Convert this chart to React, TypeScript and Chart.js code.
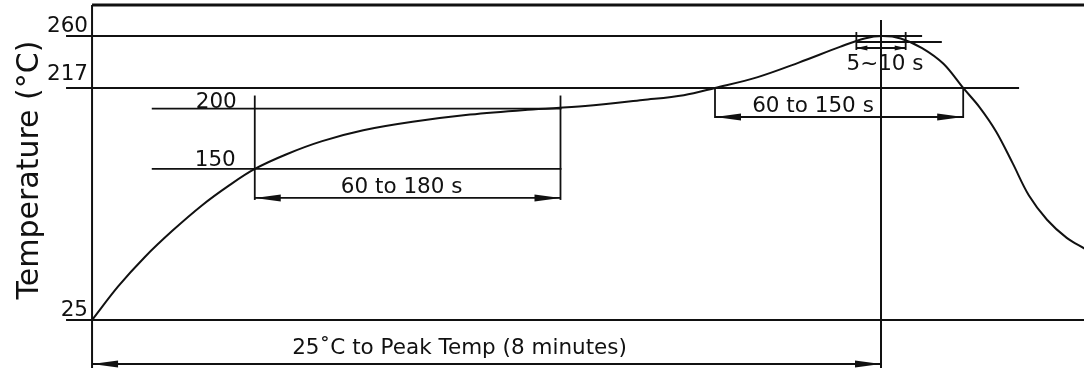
import React, { useEffect, useRef } from "react";
import { Chart, registerables } from "chart.js";
Chart.register(...registerables);

// Reflow profile curve (time in s, temperature in °C)
const timeS = [0, 16, 32, 49, 67, 83, 99, 118, 140, 165, 195, 230, 265, 300, 335, 360, 379, 405, 430, 455, 470, 481, 492, 505, 518, 530, 540, 550, 560, 570, 581, 593, 604];
const tempC = [25, 53, 77, 99, 120, 136, 150, 162, 173, 182, 189, 195, 199, 202, 207, 211, 217, 226, 238, 251, 258, 260, 258, 250, 237, 217, 201, 181, 155, 128, 108, 93, 84];

// Reference temperature levels (°C)
const levelTicks = [260, 217, 25];
const soakLevels = [200, 150];
const peakTemp = 260;
const liquidus = 217;
const ambient = 25;

// Time markers (s)
const soakTimes = [99, 285];
const liquidusTimes = [379, 530];
const peakWindow = [465, 495];
const peakTime = 480;

// Labels
const soakLabel = "60 to 180 s";
const liquidusLabel = "60 to 150 s";
const peakLabel = "5~10 s";
const rampLabel = "25˚C to Peak Temp (8 minutes)";
const yTitle = "Temperature (°C)";

const FONT = "'DejaVu Sans', Verdana, sans-serif";

const annotationPlugin = {
  id: "reflowAnnotations",
  afterDatasetsDraw(chart: any) {
    const ctx = chart.ctx as CanvasRenderingContext2D;
    const xs = chart.scales.x;
    const ys = chart.scales.y;
    const px = (t: number) => xs.getPixelForValue(t);
    const py = (T: number) => ys.getPixelForValue(T);
    const W = chart.width;
    const H = chart.height;
    const ink = "#111";

    ctx.save();
    ctx.strokeStyle = ink;
    ctx.fillStyle = ink;
    ctx.lineCap = "butt";

    const line = (x0: number, y0: number, x1: number, y1: number, w = 1.8) => {
      ctx.lineWidth = w;
      ctx.beginPath();
      ctx.moveTo(x0, y0);
      ctx.lineTo(x1, y1);
      ctx.stroke();
    };
    const head = (xTip: number, y: number, dir: number, len: number, half: number) => {
      ctx.beginPath();
      ctx.moveTo(xTip, y);
      ctx.lineTo(xTip + dir * len, y - half);
      ctx.lineTo(xTip + dir * len, y + half);
      ctx.closePath();
      ctx.fill();
    };
    const arrow = (x0: number, x1: number, y: number, len = 26, half = 3.5) => {
      line(x0, y, x1, y, 1.8);
      head(x0, y, 1, len, half);
      head(x1, y, -1, len, half);
    };

    const x0 = px(0);
    const xPeak = px(peakTime);
    const labelLeft = x0 - 26;

    // frame
    line(x0, 5, W, 5, 3);
    line(x0, 5, x0, H, 2);

    // horizontal level lines
    line(labelLeft, py(peakTemp), px(505), py(peakTemp));
    line(labelLeft, py(liquidus), px(564), py(liquidus));
    line(labelLeft, py(ambient), W, py(ambient));
    const soakLeft = px(soakTimes[0]) - 103;
    soakLevels.forEach((lv) => line(soakLeft, py(lv), px(soakTimes[1]) + 1, py(lv)));

    // soak window
    const ySoakArrow = py(soakLevels[1]) + 29;
    soakTimes.forEach((t) => line(px(t), py(soakLevels[0]) - 13, px(t), ySoakArrow + 2));
    arrow(px(soakTimes[0]), px(soakTimes[1]), ySoakArrow);

    // liquidus window
    const yLiqArrow = py(liquidus) + 29;
    liquidusTimes.forEach((t) => line(px(t), py(liquidus), px(t), yLiqArrow + 1));
    arrow(px(liquidusTimes[0]), px(liquidusTimes[1]), yLiqArrow);

    // peak window
    const yPk = py(peakTemp);
    line(px(peakWindow[0]), yPk + 6, px(517), yPk + 6);
    peakWindow.forEach((t) => line(px(t), yPk - 4, px(t), yPk + 14));
    arrow(px(peakWindow[0]), px(peakWindow[1]), yPk + 12, 11, 2.5);

    // peak vertical
    line(xPeak, 20, xPeak, H, 2);

    // ramp arrow
    arrow(x0, xPeak, H - 4, 26, 3.5);

    // texts
    ctx.font = `21.5px ${FONT}`;
    ctx.textBaseline = "alphabetic";
    ctx.textAlign = "right";
    const lvlOffsets: Record<number, number> = { 260: -4, 217: -8, 25: -4 };
    levelTicks.forEach((lv) => ctx.fillText(String(lv), x0 - 4, py(lv) + (lvlOffsets[lv] ?? -4)));
    ctx.fillText(String(soakLevels[0]), px(soakTimes[0]) - 18, py(soakLevels[0]) - 1);
    ctx.fillText(String(soakLevels[1]), px(soakTimes[0]) - 19, py(soakLevels[1]) - 3);

    ctx.textAlign = "center";
    ctx.fillText(soakLabel, (px(soakTimes[0]) + px(soakTimes[1])) / 2 - 6, ySoakArrow - 5);
    ctx.fillText(liquidusLabel, px(liquidusTimes[0]) + 98, yLiqArrow - 5);
    ctx.fillText(peakLabel, xPeak + 4, yPk + 34);
    ctx.fillText(rampLabel, (x0 + xPeak) / 2 - 27, H - 14);

    // y title
    ctx.save();
    ctx.translate(38, 170);
    ctx.rotate(-Math.PI / 2);
    ctx.font = `30px ${FONT}`;
    ctx.textAlign = "center";
    ctx.textBaseline = "alphabetic";
    ctx.fillText(yTitle, 0, 0);
    ctx.restore();

    ctx.restore();
  },
};

export default function App() {
  const ref = useRef<HTMLCanvasElement | null>(null);
  useEffect(() => {
    if (!ref.current) return;
    const chart = new Chart(ref.current, {
      type: "line",
      data: {
        datasets: [
          {
            data: timeS.map((t, i) => ({ x: t, y: tempC[i] })),
            borderColor: "#111",
            borderWidth: 2,
            pointRadius: 0,
            fill: false,
            tension: 0.35,
          },
        ],
      },
      options: {
        animation: false,
        responsive: false,
        layout: { padding: 0 },
        plugins: { legend: { display: false }, tooltip: { enabled: false } },
        scales: {
          x: { type: "linear", min: -56, max: 603.5, display: false },
          y: { type: "linear", min: -14.7, max: 289.8, display: false },
        },
      },
      plugins: [annotationPlugin],
    });
    return () => chart.destroy();
  }, []);
  return (
    <div style={{ position: "absolute", left: 0, top: 0, width: 1084, height: 368, background: "#fff" }}>
      <canvas ref={ref} width={1084} height={368} />
    </div>
  );
}
